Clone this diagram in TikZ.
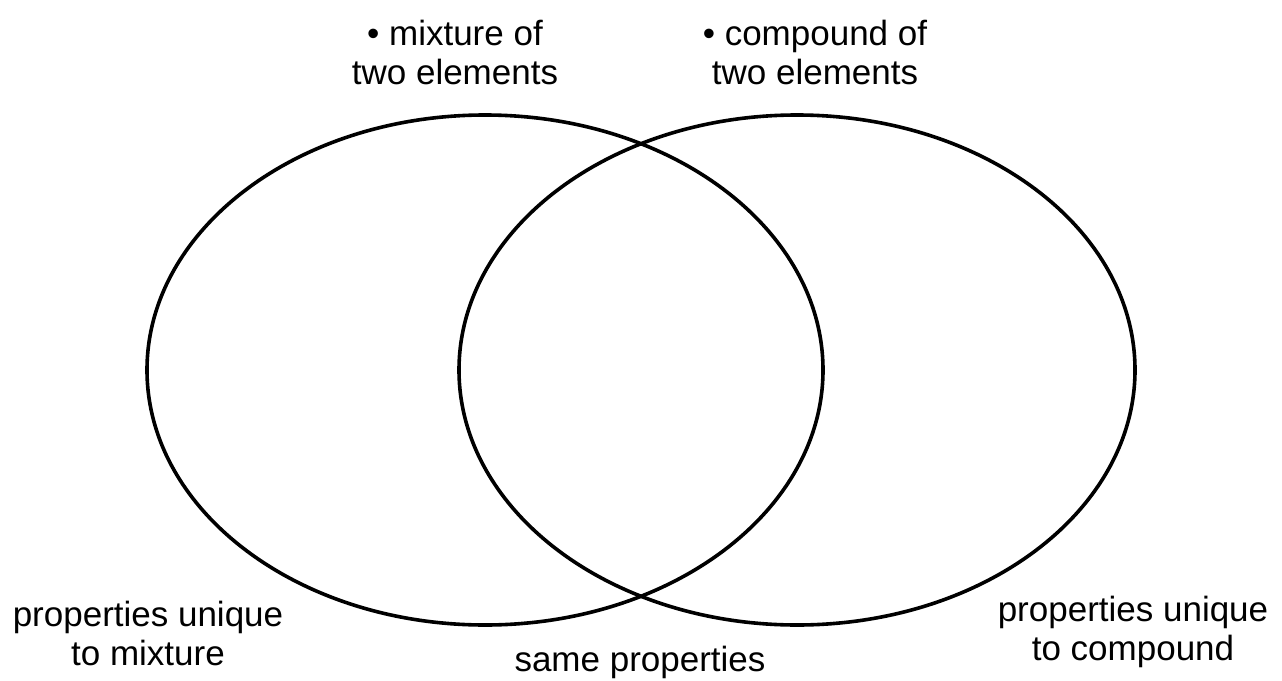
\documentclass[tikz,border=0pt]{standalone}
\usetikzlibrary{shapes.geometric}
\usepackage{fontspec}
\setmainfont{Liberation Sans}
\begin{document}
\begin{tikzpicture}[x=1pt,y=-1pt,
  lbl/.style={align=center,inner sep=0pt,font=\fontsize{35}{39}\selectfont},
  ring/.style={draw=black,line width=3.6pt,ellipse,minimum width=676pt,minimum height=510pt,inner sep=0pt}]
\useasboundingbox (0,0) rectangle (1282,680);
\node[ring] (L) at (485,370) {};
\node[ring] (R) at (797,370) {};
\node[lbl] (mix) at (455,52) {• mixture of\\two elements};
\node[lbl] (comp) at (815,52) {• compound of\\two elements};
\node[lbl] (pum) at (148,633) {properties unique\\to mixture};
\node[lbl] (puc) at (1133,632) {properties unique\\to compound};
\node[lbl] (same) at (640,662) {same properties};
\end{tikzpicture}
\end{document}
